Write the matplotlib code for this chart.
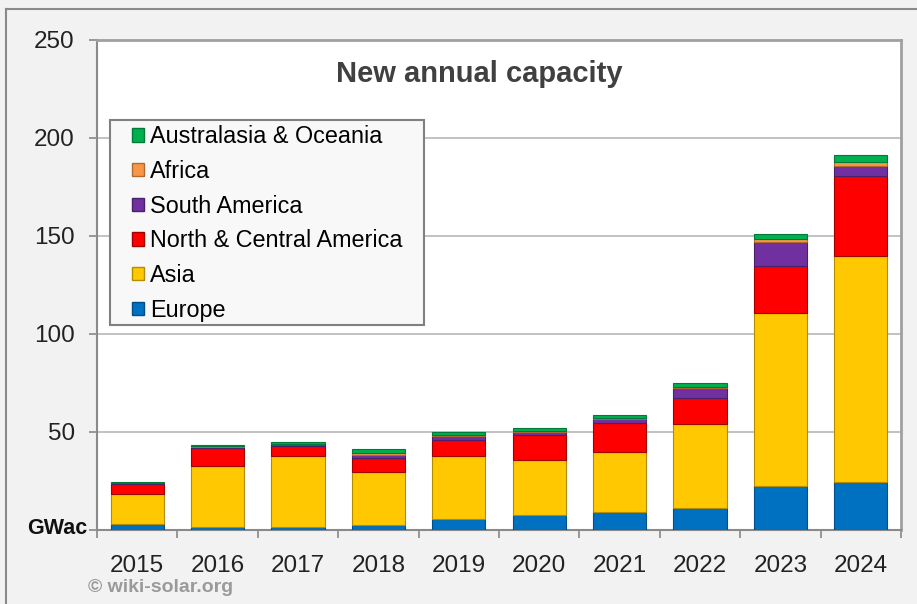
import matplotlib
matplotlib.use("Agg")
import matplotlib.pyplot as plt
from matplotlib.patches import Patch, Rectangle
from matplotlib.lines import Line2D
import numpy as np

years = ["2015", "2016", "2017", "2018", "2019", "2020", "2021", "2022", "2023", "2024"]
europe = [3.0, 1.7, 1.7, 2.7, 5.6, 7.8, 9.3, 11.0, 22.6, 24.3]
asia = [15.5, 31.0, 36.0, 26.7, 32.0, 28.0, 30.7, 43.1, 88.1, 115.7]
north_central_america = [5.0, 9.0, 5.0, 7.2, 8.4, 12.8, 14.6, 13.1, 23.8, 40.8]
south_america = [0.3, 0.8, 1.0, 1.5, 1.8, 1.3, 2.0, 5.2, 12.3, 4.8]
africa = [0.3, 0.3, 0.4, 1.0, 0.8, 0.6, 0.6, 0.8, 1.7, 2.3]
australasia = [0.5, 0.6, 1.0, 2.2, 1.4, 1.5, 1.5, 1.8, 2.5, 3.6]

series = [
    ("Europe", europe, "#0070C0", "#004f8a"),
    ("Asia", asia, "#FFC800", "#b38c00"),
    ("North & Central America", north_central_america, "#FF0000", "#a00000"),
    ("South America", south_america, "#7030A0", "#4a1f6b"),
    ("Africa", africa, "#F79646", "#b06a30"),
    ("Australasia & Oceania", australasia, "#00B050", "#007a38"),
]

plt.rcParams['font.family'] = ['Liberation Sans', 'DejaVu Sans']

fig = plt.figure(figsize=(9.17, 6.04), dpi=100, facecolor="#f2f2f2")
ax = fig.add_axes([97/917, 74/604, (901-97)/917, (530-40)/604])
ax.set_facecolor("white")

x = np.arange(len(years))
bottom = np.zeros(len(years))
for name, vals, col, edge in series:
    v = np.array(vals)
    ax.bar(x, v, bottom=bottom, width=0.66, color=col, edgecolor=edge,
           linewidth=0.8, zorder=3)
    bottom += v

ax.set_xlim(-0.5, len(years) - 0.5)
ax.set_ylim(0, 250)
ax.set_yticks([0, 50, 100, 150, 200, 250])
ax.set_yticklabels(["", "50", "100", "150", "200", "250"], fontsize=17.5, color="#222222")
ax.yaxis.grid(True, color="#bdbdbd", linewidth=1.3, zorder=0)
ax.tick_params(axis="y", direction="out", length=6, width=1.2, color="#888888", pad=10)

ax.set_xticks(np.arange(len(years) + 1) - 0.5)
ax.set_xticklabels([])
ax.tick_params(axis="x", which="major", direction="out", length=6, width=1.2, color="#888888")
ax.set_xticks(x, minor=True)
ax.set_xticklabels(years, minor=True, fontsize=17.5, color="#222222")
ax.tick_params(axis="x", which="minor", length=0, pad=18)

for s in ["left", "bottom"]:
    ax.spines[s].set_color("#8a8a8a")
    ax.spines[s].set_linewidth(1.5)
for s in ["top", "right"]:
    ax.spines[s].set_color("#a0a0a0")
    ax.spines[s].set_linewidth(2.0)

ax.text(0.475, 0.93, "New annual capacity", transform=ax.transAxes, ha="center", va="center",
        fontsize=21, fontweight="bold", color="#404040")

ax.text(-0.012, 0.003, "GWac", transform=ax.transAxes, ha="right", va="center",
        fontsize=15.5, fontweight="bold", color="#111111")

fig.text(88/917, 1 - 588/604, "\u00a9 wiki-solar.org", ha="left", va="center",
         fontsize=14, fontweight="bold", color="#9a9a9a")

# legend frame
frame = Rectangle((0.0162, 0.4184), 0.4067 - 0.0162, 0.8367 - 0.4184, transform=ax.transAxes,
                  facecolor="#f8f8f8", edgecolor="#808080", linewidth=1.5, zorder=5)
ax.add_patch(frame)

handles = [Patch(facecolor=col, edgecolor=edge, label=name) for name, vals, col, edge in series][::-1]
leg = ax.legend(handles=handles, loc="upper left", bbox_to_anchor=(0.0435, 0.826),
                fontsize=16.8, frameon=False, handlelength=0.52, handleheight=0.52,
                handletextpad=0.26, labelspacing=0.5, borderpad=0, borderaxespad=0)
leg.set_zorder(6)

fig.add_artist(Line2D([6/917, 1], [1 - 9/604, 1 - 9/604], transform=fig.transFigure,
                      color="#8a8a8a", linewidth=1.5))
fig.add_artist(Line2D([6/917, 6/917], [0, 1 - 9/604], transform=fig.transFigure,
                      color="#8a8a8a", linewidth=1.5))

fig.savefig("out.png", dpi=100, facecolor=fig.get_facecolor())
